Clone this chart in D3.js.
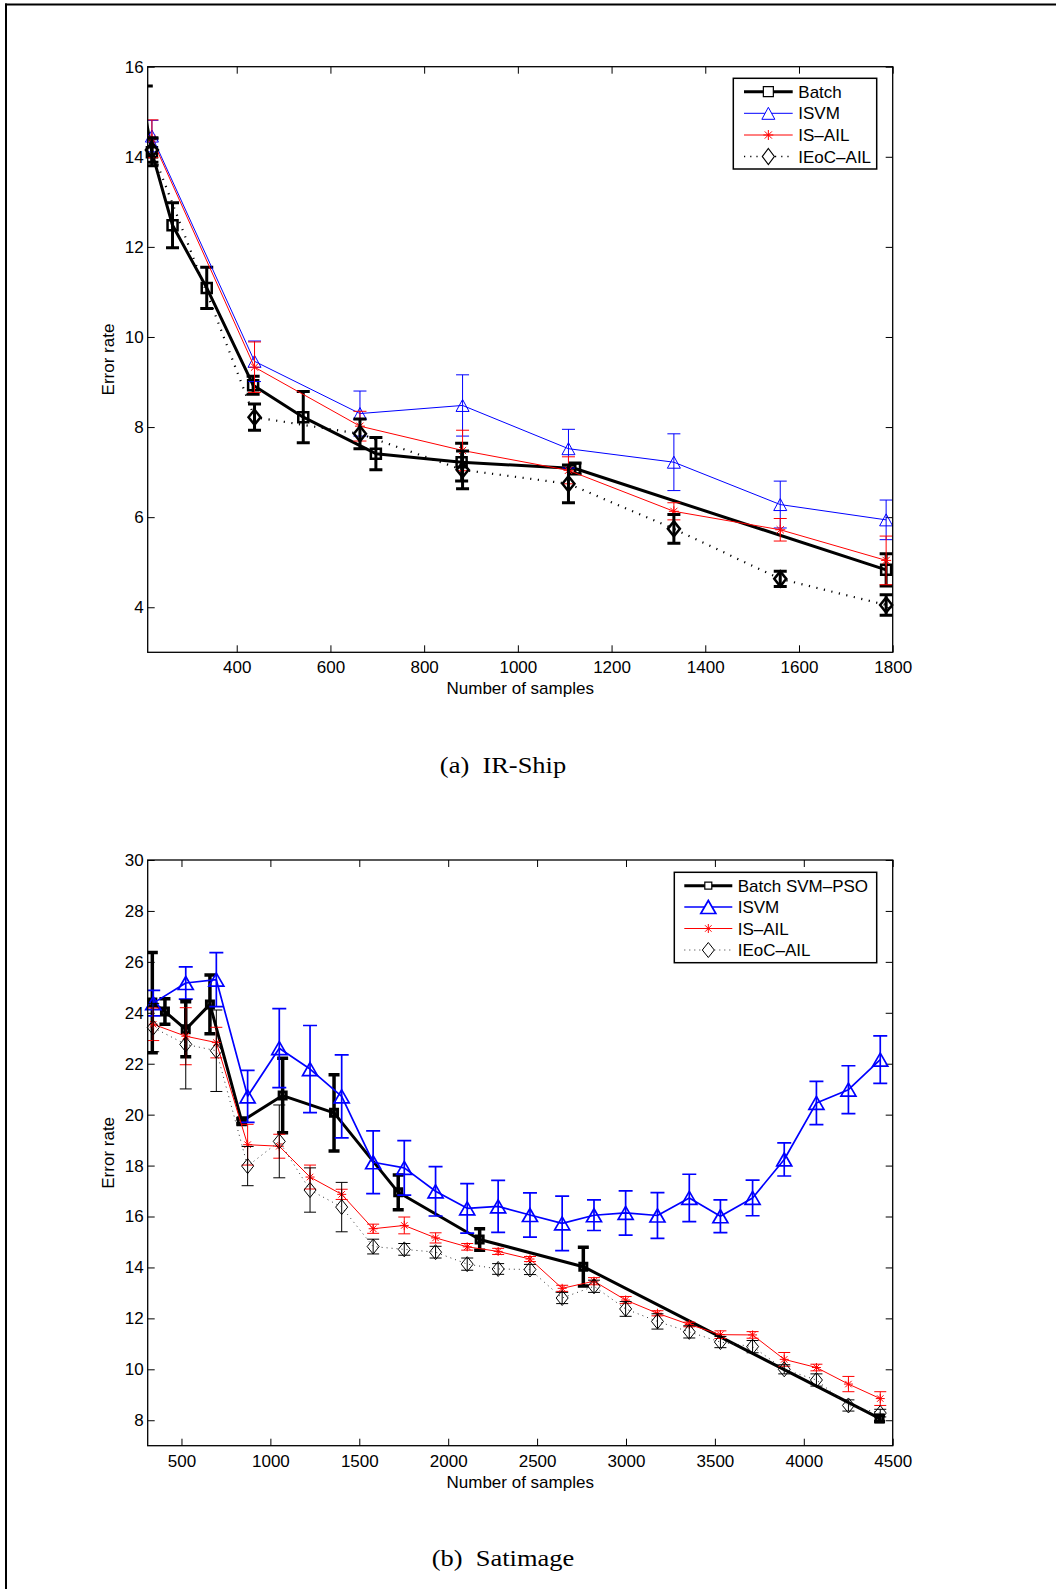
<!DOCTYPE html>
<html><head><meta charset="utf-8">
<script src="https://cdn.jsdelivr.net/npm/d3@7"></script>
<style>
body{margin:0;background:#fff;}
svg{display:block;}
</style></head><body>
<svg id="fig" width="1056" height="1589"></svg>
<script>
// ---------------- DATA: (a) IR-Ship ----------------
const shipXTicks = [400, 600, 800, 1000, 1200, 1400, 1600, 1800];
const shipYTicks = [4, 6, 8, 10, 12, 14, 16];
const shipLegend = ["Batch", "ISVM", "IS\u2013AIL", "IEoC\u2013AIL"];

const shipXBatch   = [207, 219, 263, 336, 435, 542, 697, 880, 1122, 1786];
const shipBatch    = [14.8, 14.1, 12.48, 11.09, 8.93, 8.22, 7.41, 7.22, 7.08, 4.83];
const shipBatchErr = [0.77, 0.3, 0.5, 0.46, 0.2, 0.57, 0.36, 0.42, 0.12, 0.36];

const shipXInc     = [219, 438, 663, 882, 1108, 1333, 1560, 1786];
const shipISVM     = [14.46, 9.46, 8.3, 8.48, 7.52, 7.22, 6.28, 5.94];
const shipISVMErr  = [0.35, 0.45, 0.5, 0.68, 0.43, 0.63, 0.52, 0.44];
const shipISAIL    = [14.4, 9.33, 8.02, 7.48, 7.04, 6.13, 5.72, 5.04];
const shipISAILErr = [0.42, 0.56, 0.33, 0.45, 0.3, 0.19, 0.25, 0.54];
const shipIEoC     = [14.15, 8.22, 7.85, 7.05, 6.74, 5.74, 4.63, 4.05];
const shipIEoCErr  = [0.27, 0.29, 0.33, 0.42, 0.42, 0.32, 0.17, 0.23];

// ---------------- DATA: (b) Satimage ----------------
const satXTicks = [500, 1000, 1500, 2000, 2500, 3000, 3500, 4000, 4500];
const satYTicks = [8, 10, 12, 14, 16, 18, 20, 22, 24, 26, 28, 30];
const satLegend = ["Batch SVM\u2013PSO", "ISVM", "IS\u2013AIL", "IEoC\u2013AIL"];

const satXBatch   = [336, 407, 524, 660, 839, 1069, 1358, 1719, 2177, 2760, 4426];
const satBatch    = [24.4, 24.05, 23.35, 24.33, 19.74, 20.75, 20.07, 16.95, 15.1, 14.03, 8.07];
const satBatchErr = [1.97, 0.5, 1.08, 1.15, 0.1, 1.46, 1.5, 0.68, 0.42, 0.76, 0.12];

const satXInc     = [341, 524, 696, 872, 1050, 1223, 1401, 1578, 1753, 1929, 2107, 2281,
                     2460, 2641, 2820, 2998, 3177, 3356, 3531, 3712, 3890, 4071, 4251, 4430];
const satISVM     = [24.38, 25.17, 25.3, 20.72, 22.61, 21.79, 20.72, 18.13, 17.91, 16.99, 16.32, 16.4,
                     16.06, 15.73, 16.05, 16.14, 16.04, 16.73, 16.01, 16.73, 18.24, 20.46, 20.98, 22.16];
const satISVMErr  = [0.5, 0.63, 1.06, 1.02, 1.55, 1.71, 1.63, 1.23, 1.07, 0.97, 0.97, 1.02,
                     0.87, 1.07, 0.6, 0.87, 0.9, 0.93, 0.64, 0.7, 0.65, 0.85, 0.94, 0.93];
const satISAIL    = [23.55, 23.08, 22.83, 18.82, 18.76, 17.55, 16.87, 15.52, 15.65, 15.16, 14.81, 14.63,
                     14.33, 13.18, 13.46, 12.72, 12.2, 11.76, 11.36, 11.35, 10.39, 10.07, 9.42, 8.85];
const satISAILErr = [0.64, 1.12, 0.6, 0.8, 0.47, 0.47, 0.2, 0.18, 0.33, 0.2, 0.13, 0.12,
                     0.1, 0.12, 0.14, 0.14, 0.1, 0.09, 0.15, 0.13, 0.27, 0.13, 0.3, 0.27];
const satIEoC     = [23.42, 22.76, 22.51, 17.98, 18.95, 17.04, 16.37, 14.82, 14.71, 14.6, 14.13, 13.94,
                     13.92, 12.8, 13.26, 12.37, 11.88, 11.47, 11.07, 10.89, 10.0, 9.58, 8.58, 8.28];
const satIEoCErr  = [0.95, 1.75, 1.6, 0.77, 1.43, 0.87, 0.97, 0.29, 0.23, 0.23, 0.24, 0.21,
                     0.2, 0.22, 0.24, 0.29, 0.3, 0.24, 0.22, 0.24, 0.18, 0.24, 0.22, 0.15];

// ---------------- DRAWING ----------------
const svg = d3.select("#fig");
const SANS = '"Liberation Sans", Arial, Helvetica, sans-serif';
const SERIF = '"Liberation Serif", "Times New Roman", Times, serif';

// figure frame
svg.append("line").attr("x1", 5).attr("x2", 1056).attr("y1", 4.5).attr("y2", 4.5)
  .attr("stroke", "#000").attr("stroke-width", 2);
svg.append("line").attr("x1", 6).attr("x2", 6).attr("y1", 3.5).attr("y2", 1589)
  .attr("stroke", "#000").attr("stroke-width", 2);

function markerPath(type, w, h) {
  const a = w / 2, b = h / 2;
  switch (type) {
    case "square": return `M${-a},${-b}H${a}V${b}H${-a}Z`;
    case "triangle": return `M0,${-b}L${a},${b}L${-a},${b}Z`;
    case "diamond": return `M0,${-b}L${a},0L0,${b}L${-a},0Z`;
    case "asterisk": {
      const c = a * 0.72;
      return `M${-a},0H${a}M0,${-a}V${a}M${-c},${-c}L${c},${c}M${-c},${c}L${c},${-c}`;
    }
  }
}

let clipId = 0;
function panel(cfg) {
  const g = svg.append("g");
  const x = d3.scaleLinear().domain(cfg.xDomain).range([cfg.L, cfg.R]);
  const y = d3.scaleLinear().domain(cfg.yDomain).range([cfg.B, cfg.T]);
  const cid = "clip" + (clipId++);
  svg.append("clipPath").attr("id", cid).append("rect")
    .attr("x", cfg.L).attr("y", cfg.T).attr("width", cfg.R - cfg.L).attr("height", cfg.B - cfg.T);
  const fmt = d3.format("d");

  // axes (ticks inside, MATLAB style)
  const styleAxis = sel => {
    sel.select(".domain").remove();
    sel.selectAll(".tick line").attr("stroke", "#000").attr("stroke-width", 1);
    sel.selectAll("text").attr("font-family", SANS).attr("font-size", 17).attr("fill", "#000");
  };
  g.append("g").attr("transform", `translate(0,${cfg.B})`)
    .call(d3.axisBottom(x).tickValues(cfg.xTicks).tickFormat(fmt).tickSizeInner(-7).tickSizeOuter(0).tickPadding(9))
    .call(styleAxis);
  g.append("g").attr("transform", `translate(0,${cfg.T})`)
    .call(d3.axisTop(x).tickValues(cfg.xTicks).tickSizeInner(-7).tickSizeOuter(0).tickFormat(""))
    .call(styleAxis);
  g.append("g").attr("transform", `translate(${cfg.L},0)`)
    .call(d3.axisLeft(y).tickValues(cfg.yTicks).tickFormat(fmt).tickSizeInner(-7).tickSizeOuter(0).tickPadding(4))
    .call(styleAxis);
  g.append("g").attr("transform", `translate(${cfg.R},0)`)
    .call(d3.axisRight(y).tickValues(cfg.yTicks).tickSizeInner(-7).tickSizeOuter(0).tickFormat(""))
    .call(styleAxis);

  // series
  cfg.series.forEach(s => {
    const eg = g.append("g").attr("clip-path", `url(#${cid})`);
    s.x.forEach((xv, i) => {
      const px = x(xv), y1 = y(s.y[i] - s.e[i]), y2 = y(s.y[i] + s.e[i]);
      const p = `M${px},${y1}V${y2}M${px - s.cap},${y1}H${px + s.cap}M${px - s.cap},${y2}H${px + s.cap}`;
      eg.append("path").attr("d", p).attr("fill", "none")
        .attr("stroke", s.ecolor || s.color).attr("stroke-width", s.elw);
    });
    const line = d3.line().x((d, i) => x(s.x[i])).y(d => y(d));
    eg.append("path").datum(s.y).attr("d", line).attr("fill", "none")
      .attr("stroke", s.lcolor || s.color).attr("stroke-width", s.lw)
      .attr("stroke-dasharray", s.dash || null).attr("stroke-linejoin", "round");
    const mg = g.append("g");
    s.x.forEach((xv, i) => {
      if (xv < cfg.xDomain[0] || xv > cfg.xDomain[1]) return;
      mg.append("path").attr("transform", `translate(${x(xv)},${y(s.y[i])})`)
        .attr("d", markerPath(s.marker, s.mw, s.mh)).attr("fill", "none")
        .attr("stroke", s.color).attr("stroke-width", s.mlw);
    });
  });

  // box
  g.append("rect").attr("x", cfg.L).attr("y", cfg.T).attr("width", cfg.R - cfg.L).attr("height", cfg.B - cfg.T)
    .attr("fill", "none").attr("stroke", "#000").attr("stroke-width", 1.3);

  // axis labels
  g.append("text").attr("x", (cfg.L + cfg.R) / 2).attr("y", cfg.B + 42).attr("text-anchor", "middle")
    .attr("font-family", SANS).attr("font-size", 17).text("Number of samples");
  g.append("text").attr("transform", `translate(${cfg.L - 34},${(cfg.T + cfg.B) / 2}) rotate(-90)`)
    .attr("text-anchor", "middle").attr("font-family", SANS).attr("font-size", 17).text("Error rate");

  // legend
  const lg = cfg.legend;
  g.append("rect").attr("x", lg.x0).attr("y", lg.y0).attr("width", lg.x1 - lg.x0).attr("height", lg.y1 - lg.y0)
    .attr("fill", "#fff").attr("stroke", "#000").attr("stroke-width", 1.5);
  cfg.series.forEach((s, i) => {
    const ry = lg.rows[i];
    g.append("line").attr("x1", lg.lx0).attr("x2", lg.lx1).attr("y1", ry).attr("y2", ry)
      .attr("stroke", s.lcolor || s.color).attr("stroke-width", s.legLw || s.lw)
      .attr("stroke-dasharray", s.legDash || s.dash || null);
    g.append("path").attr("transform", `translate(${(lg.lx0 + lg.lx1) / 2},${ry})`)
      .attr("d", markerPath(s.marker, s.legMw || s.mw, s.legMh || s.mh)).attr("fill", "#fff")
      .attr("stroke", s.color).attr("stroke-width", s.legMlw || s.mlw);
    g.append("text").attr("x", lg.tx).attr("y", ry).attr("dy", "0.36em")
      .attr("font-family", SANS).attr("font-size", 17).text(cfg.legendLabels[i]);
  });

  // caption
  const cap = svg.append("g").attr("transform", `translate(${cfg.capX},${cfg.capY}) scale(1.15,1)`);
  cap.append("text").attr("text-anchor", "middle").attr("font-family", SERIF).attr("font-size", 23)
    .attr("xml:space", "preserve").text(cfg.caption);
}

panel({
  L: 147.7, R: 892.7, T: 66.7, B: 652.3,
  xDomain: [210, 1800], yDomain: [3, 16], xTicks: shipXTicks, yTicks: shipYTicks,
  legendLabels: shipLegend,
  legend: {x0: 733.3, y0: 78.3, x1: 876.7, y1: 169, lx0: 744, lx1: 792.7, tx: 798.3, rows: [91.7, 113.3, 135, 156.5]},
  caption: "(a)  IR-Ship", capX: 503, capY: 773,
  series: [
    {x: shipXBatch, y: shipBatch, e: shipBatchErr, color: "#000", lw: 3, elw: 3, cap: 6.5,
     marker: "square", mw: 10, mh: 10, mlw: 2.5, legMlw: 1.2},
    {x: shipXInc, y: shipISVM, e: shipISVMErr, color: "#0000ff", lw: 1, elw: 1, cap: 6.5,
     marker: "triangle", mw: 13, mh: 12, mlw: 1},
    {x: shipXInc, y: shipISAIL, e: shipISAILErr, color: "#ff0000", lw: 1, elw: 1, cap: 6.5,
     marker: "asterisk", mw: 10, mh: 10, mlw: 1},
    {x: shipXInc, y: shipIEoC, e: shipIEoCErr, color: "#000", lw: 2.2, dash: "1.2,6.5", elw: 3, cap: 6.5,
     marker: "diamond", mw: 12, mh: 15, mlw: 2.5, legMlw: 1.2, legMw: 12, legMh: 16, legLw: 1.5, legDash: "1.2,5"}
  ]
});

panel({
  L: 147.7, R: 892.7, T: 860, B: 1445.7,
  xDomain: [310, 4500], yDomain: [7, 30], xTicks: satXTicks, yTicks: satYTicks,
  legendLabels: satLegend,
  legend: {x0: 674.3, y0: 872.3, x1: 876.7, y1: 962.7, lx0: 684.3, lx1: 732.3, tx: 737.7, rows: [885.7, 907, 928.5, 950]},
  caption: "(b)  Satimage", capX: 503, capY: 1566,
  series: [
    {x: satXBatch, y: satBatch, e: satBatchErr, color: "#000", lw: 3, elw: 3.5, cap: 5.5,
     marker: "square", mw: 7, mh: 7, mlw: 3, legMlw: 1.2},
    {x: satXInc, y: satISVM, e: satISVMErr, color: "#0000ff", lw: 1.7, elw: 1.7, cap: 7,
     marker: "triangle", mw: 15, mh: 13, mlw: 1.7},
    {x: satXInc, y: satISAIL, e: satISAILErr, color: "#ff0000", lw: 1, elw: 1, cap: 6,
     marker: "asterisk", mw: 9, mh: 9, mlw: 1},
    {x: satXInc, y: satIEoC, e: satIEoCErr, color: "#000", lcolor: "#333", lw: 1, dash: "1,4", elw: 1, cap: 6,
     marker: "diamond", mw: 12, mh: 15, mlw: 1}
  ]
});
</script>
</body></html>
